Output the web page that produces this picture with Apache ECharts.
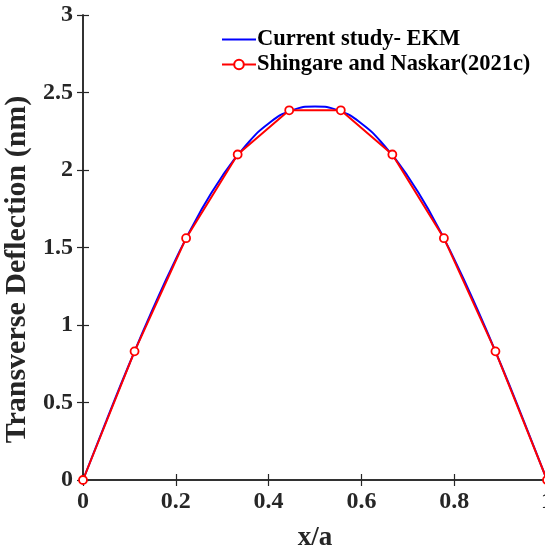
<!DOCTYPE html>
<html><head><meta charset="utf-8">
<script src="https://cdn.jsdelivr.net/npm/echarts@6/dist/echarts.min.js"></script>
<style>html,body{margin:0;padding:0;background:#fff}#c{width:545px;height:550px}</style>
</head><body><div id="c"></div>
<script>
const ekmX = [0,0.05,0.1,0.15,0.2,0.25,0.3,0.35,0.4,0.45,0.5,0.55,0.6,0.65,0.7,0.75,0.8,0.85,0.9,0.95,1];
const ekmY = [0,0.38,0.75,1.10,1.425,1.715,1.96,2.155,2.30,2.385,2.41,2.385,2.30,2.155,1.96,1.715,1.425,1.10,0.75,0.38,0];
const refX = [0,0.1111,0.2222,0.3333,0.4444,0.5556,0.6667,0.7778,0.8889,1];
const refY = [0,0.83,1.56,2.10,2.385,2.385,2.10,1.56,0.83,0];
const xTicks = [0,0.2,0.4,0.6,0.8,1];
const yTicks = [0,0.5,1,1.5,2,2.5,3];
const seriesNames = ['Current study- EKM','Shingare and Naskar(2021c)'];

const font = '"Liberation Serif","Times New Roman",serif';
const axisCol = '#262626';
const chart = echarts.init(document.getElementById('c'));
const lbl = {color:'#262626',fontFamily:font,fontWeight:'bold',fontSize:24};
chart.setOption({
  animation:false,
  grid:{left:83,right:-2,top:15,bottom:70,outerBoundsMode:'none',containLabel:false},
  legend:{
    orient:'vertical',left:216,top:23,itemGap:2,itemWidth:34,itemHeight:12,
    textStyle:{color:'#000',fontFamily:font,fontWeight:'bold',fontSize:22.5,padding:[0,0,0,-4]},
    data:[{name:seriesNames[0],icon:'path://M0,5 L34,5 L34,7 L0,7 Z'},{name:seriesNames[1]}]
  },
  xAxis:[{
    type:'value',min:0,max:1,interval:0.2,
    name:'x/a',nameLocation:'middle',nameGap:45,
    nameTextStyle:{color:'#262626',fontFamily:font,fontWeight:'bold',fontSize:27},
    axisLine:{lineStyle:{color:axisCol,width:1.5}},
    axisTick:{inside:true,length:6,lineStyle:{color:axisCol,width:1.2}},
    axisLabel:Object.assign({margin:10,formatter:v=>String(+v.toFixed(1))},lbl),
    splitLine:{show:false}
  },{
    type:'value',position:'top',min:0,max:1,interval:0.2,
    axisLine:{lineStyle:{color:axisCol,width:1.5}},
    axisTick:{inside:true,length:6,lineStyle:{color:axisCol,width:1.2}},
    axisLabel:{show:false},splitLine:{show:false}
  }],
  yAxis:[{
    type:'value',min:0,max:3,interval:0.5,
    name:'Transverse Deflection (nm)',nameLocation:'middle',nameGap:33,
    nameTextStyle:{color:'#262626',fontFamily:font,fontWeight:'bold',fontSize:30,padding:[0,44,0,0]},
    axisLine:{lineStyle:{color:axisCol,width:1.5}},
    axisTick:{inside:true,length:6,lineStyle:{color:axisCol,width:1.2}},
    axisLabel:Object.assign({margin:10},lbl),
    splitLine:{show:false}
  },{
    type:'value',position:'right',min:0,max:3,interval:0.5,
    axisLine:{lineStyle:{color:axisCol,width:1.5}},
    axisTick:{inside:true,length:6,lineStyle:{color:axisCol,width:1.2}},
    axisLabel:{show:false},splitLine:{show:false}
  }],
  series:[{
    name:seriesNames[0],type:'line',smooth:true,showSymbol:false,symbol:'none',
    data:ekmX.map((x,i)=>[x,ekmY[i]]),
    lineStyle:{color:'#0000ff',width:2},itemStyle:{color:'#0000ff'}
  },{
    name:seriesNames[1],type:'line',symbol:'circle',symbolSize:8,
    data:refX.map((x,i)=>[x,refY[i]]),
    lineStyle:{color:'#ff0000',width:2},
    itemStyle:{color:'#ffffff',borderColor:'#ff0000',borderWidth:1.8}
  }]
});
</script></body></html>
